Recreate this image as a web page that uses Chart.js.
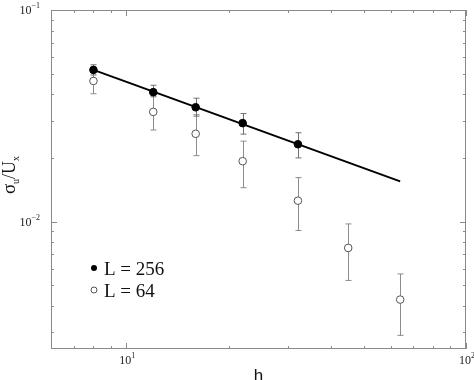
<!DOCTYPE html>
<html lang="en">
  <head>
    <meta charset="UTF-8" />
    <title>sigma_u / U_x vs h</title>
    <script src="https://cdn.jsdelivr.net/npm/chart.js"></script>
    <style>
      html, body { margin: 0; padding: 0; background: #fff; }
      .graphDiv { width: 474px; height: 380px; }
    </style>
  </head>
  <body>
    <div class="graphDiv">
      <canvas id="myChart"></canvas>
    </div>

    <script>
// values
const hValues = [8, 12, 16, 22, 32, 45, 64];
const sigma256 = [0.0521, 0.0409, 0.0347, 0.0292, 0.0232];
const err256Hi = [0.0551, 0.0441, 0.0383, 0.0324, 0.0263];
const err256Lo = [0.0493, 0.0389, 0.0315, 0.0259, 0.0200];
const sigma64 = [0.0462, 0.0330, 0.0260, 0.0193, 0.01256, 0.00751, 0.00428];
const err64Hi = [0.0511, 0.0397, 0.0320, 0.0240, 0.01614, 0.00975, 0.00566];
const err64Lo = [0.0402, 0.0271, 0.0205, 0.01446, 0.00908, 0.00527, 0.00290];
const fitH = [8, 64];
const fitSigma = [0.0521, 0.0155];

const xMajor = [10, 100];
const xMajorLabels = ["10", "10"];
const xMajorExp = ["1", "2"];
const yMajor = [0.1, 0.01];
const yMajorLabels = ["10", "10"];
const yMajorExp = ["\u22121", "\u22122"];
const legendLabels = ["L = 256", "L = 64"];

const pts = (xs, ys) => ys.map((y, i) => ({ x: xs[i], y: y }));

// minor tick values for each decade inside the range
const minorTicks = (min, max) => {
  const out = [];
  for (let d = Math.floor(Math.log10(min)); d <= Math.ceil(Math.log10(max)); d++) {
    for (let m = 2; m <= 9; m++) {
      const v = m * Math.pow(10, d);
      if (v > min && v < max) out.push(v);
    }
  }
  return out;
};

const frameColor = "#8a8a8a";

const decorPlugin = {
  id: "decor",
  beforeDatasetsDraw(chart) {
    const { ctx, scales } = chart;
    const x = scales.x, y = scales.y;
    ctx.save();
    // error bars
    const bars = (ys, lo, hi, color) => {
      ctx.strokeStyle = color;
      ctx.lineWidth = 1;
      ys.forEach((v, i) => {
        const px = Math.round(x.getPixelForValue(hValues[i])) + 0.5;
        const top = y.getPixelForValue(hi[i]);
        const bot = y.getPixelForValue(lo[i]);
        ctx.beginPath();
        ctx.moveTo(px, top); ctx.lineTo(px, bot);
        ctx.moveTo(px - 3, top); ctx.lineTo(px + 3, top);
        ctx.moveTo(px - 3, bot); ctx.lineTo(px + 3, bot);
        ctx.stroke();
      });
    };
    bars(sigma64, err64Lo, err64Hi, "#8c8c8c");
    bars(sigma256, err256Lo, err256Hi, "#707070");
    ctx.restore();
  },
  afterDraw(chart) {
    const { ctx, chartArea: a, scales } = chart;
    const x = scales.x, y = scales.y;
    ctx.save();
    // frame
    ctx.strokeStyle = frameColor;
    ctx.lineWidth = 1;
    ctx.strokeRect(a.left + 0.5, a.top + 0.5, a.right - a.left - 1, a.bottom - a.top - 1);

    // inward ticks on all four sides
    ctx.beginPath();
    const xTick = (v, len) => {
      const px = Math.round(x.getPixelForValue(v)) + 0.5;
      ctx.moveTo(px, a.bottom); ctx.lineTo(px, a.bottom - len);
      ctx.moveTo(px, a.top); ctx.lineTo(px, a.top + len);
    };
    const yTick = (v, len) => {
      const py = Math.round(y.getPixelForValue(v)) + 0.5;
      ctx.moveTo(a.left, py); ctx.lineTo(a.left + len, py);
      ctx.moveTo(a.right, py); ctx.lineTo(a.right - len, py);
    };
    minorTicks(x.min, x.max).forEach(v => xTick(v, 3));
    xMajor.forEach(v => xTick(v, 6));
    minorTicks(y.min, y.max).forEach(v => yTick(v, 3));
    yMajor.forEach(v => yTick(v, 6));
    ctx.stroke();

    // tick labels
    ctx.fillStyle = "#222";
    ctx.textBaseline = "alphabetic";
    xMajor.forEach((v, i) => {
      const px = x.getPixelForValue(v);
      ctx.font = "12px 'Liberation Serif'";
      const w = ctx.measureText(xMajorLabels[i]).width;
      ctx.textAlign = "left";
      ctx.fillText(xMajorLabels[i], px - w / 2 - 1, a.bottom + 15);
      ctx.font = "8px 'Liberation Serif'";
      ctx.fillText(xMajorExp[i], px + w / 2 - 1, a.bottom + 9);
    });
    yMajor.forEach((v, i) => {
      const py = y.getPixelForValue(v);
      ctx.font = "8px 'Liberation Serif'";
      const we = ctx.measureText(yMajorExp[i]).width;
      ctx.textAlign = "left";
      ctx.fillText(yMajorExp[i], a.left - 12 - we + 1, py - 2);
      ctx.font = "12px 'Liberation Serif'";
      const w = ctx.measureText(yMajorLabels[i]).width;
      ctx.fillText(yMajorLabels[i], a.left - 12 - we - w + 1, py + 4);
    });

    // axis titles
    ctx.fillStyle = "#111";
    ctx.font = "17px 'Liberation Sans'";
    ctx.textAlign = "center";
    ctx.fillText("h", (a.left + a.right) / 2, 381);

    ctx.save();
    ctx.translate(15, 175);
    ctx.rotate(-Math.PI / 2);
    const parts = [["\u03c3", 19, 0], ["u", 10, 4], ["/U", 18, 0], ["x", 10, 4]];
    let total = 0;
    parts.forEach(p => { ctx.font = p[1] + "px 'Liberation Serif'"; total += ctx.measureText(p[0]).width; });
    let cx = -total / 2;
    ctx.textAlign = "left";
    parts.forEach(p => {
      ctx.font = p[1] + "px 'Liberation Serif'";
      ctx.fillText(p[0], cx, p[2]);
      cx += ctx.measureText(p[0]).width;
    });
    ctx.restore();

    // legend
    const lx = 94, ly = [268, 290];
    ctx.lineWidth = 1;
    ctx.beginPath();
    ctx.arc(lx, ly[0], 3, 0, Math.PI * 2);
    ctx.fillStyle = "#000";
    ctx.fill();
    ctx.beginPath();
    ctx.arc(lx, ly[1], 3, 0, Math.PI * 2);
    ctx.fillStyle = "#fff";
    ctx.fill();
    ctx.strokeStyle = "#555";
    ctx.stroke();
    ctx.fillStyle = "#111";
    ctx.font = "19px 'Liberation Serif'";
    ctx.textAlign = "left";
    legendLabels.forEach((t, i) => ctx.fillText(t, 104, ly[i] + 7));
    ctx.restore();
  }
};

const ctx = document.getElementById("myChart").getContext("2d");
const myChart = new Chart(ctx, {
  type: "scatter",
  data: {
    datasets: [
      {
        label: "fit",
        data: pts(fitH, fitSigma),
        showLine: true,
        borderColor: "#000",
        borderWidth: 2,
        pointRadius: 0,
        order: 3,
      },
      {
        label: legendLabels[1],
        data: pts(hValues, sigma64),
        pointRadius: 3.8,
        pointBackgroundColor: "#fff",
        pointBorderColor: "#555",
        pointBorderWidth: 1,
        order: 2,
      },
      {
        label: legendLabels[0],
        data: pts(hValues, sigma256),
        pointRadius: 3.8,
        pointBackgroundColor: "#000",
        pointBorderColor: "#000",
        pointBorderWidth: 1,
        order: 1,
      },
    ],
  },
  options: {
    responsive: true,
    maintainAspectRatio: false,
    animation: false,
    layout: { padding: { left: 51, right: 8, top: 10, bottom: 31 } },
    scales: {
      x: { type: "logarithmic", min: 6, max: 100, display: false },
      y: { type: "logarithmic", min: 0.0025, max: 0.1, display: false },
    },
    plugins: {
      legend: { display: false },
      tooltip: { enabled: false },
    },
  },
  plugins: [decorPlugin],
});
    </script>
  </body>
</html>
